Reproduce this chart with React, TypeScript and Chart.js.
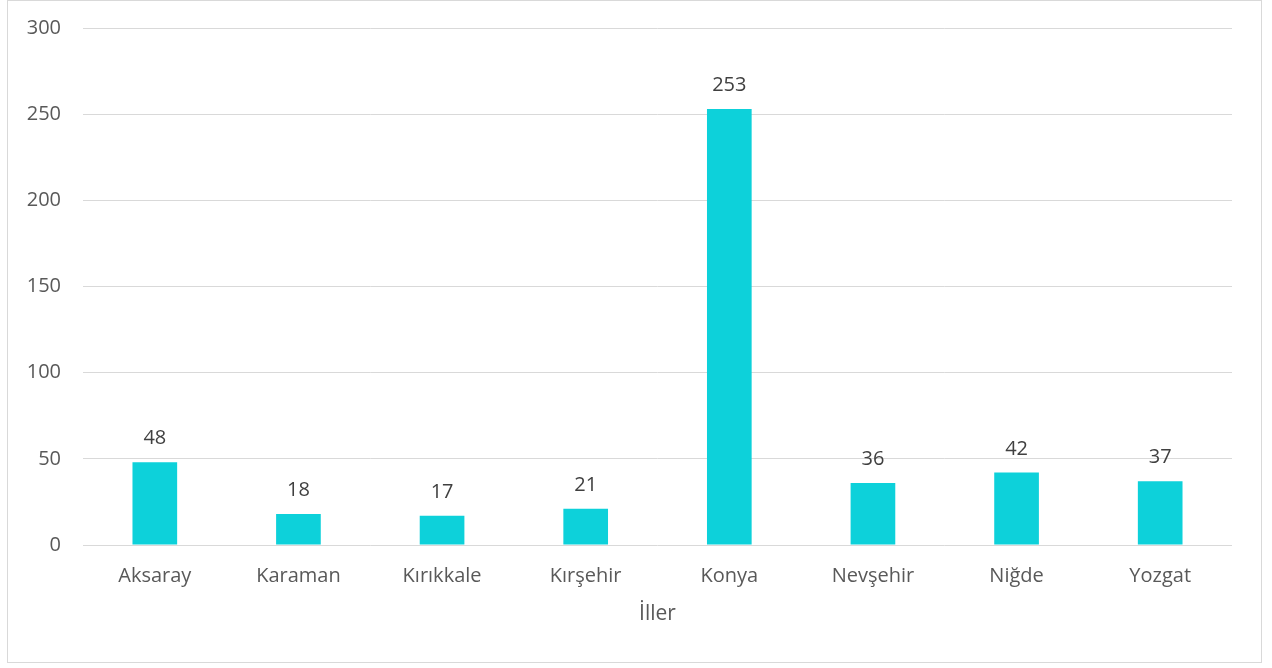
import { useEffect, useRef } from 'react';
import { Chart, registerables } from 'chart.js';

Chart.register(...registerables);

const categories = ['Aksaray', 'Karaman', 'Kırıkkale', 'Kırşehir', 'Konya', 'Nevşehir', 'Niğde', 'Yozgat'];
const values = [48, 18, 17, 21, 253, 36, 42, 37];
const yMin = 0;
const yMax = 300;
const yStep = 50;
const xTitle = 'İller';

const FONT = "'Open Sans', 'DejaVu Sans', sans-serif";

const frameAndLabels = {
  id: 'frameAndLabels',
  beforeDraw(chart: any) {
    const { ctx } = chart;
    ctx.save();
    ctx.fillStyle = '#ffffff';
    ctx.fillRect(0, 0, chart.width, chart.height);
    ctx.strokeStyle = '#d9d9d9';
    ctx.lineWidth = 1;
    ctx.strokeRect(7.5, 0.5, 1254, 662);
    ctx.restore();
  },
  afterDatasetsDraw(chart: any) {
    const { ctx } = chart;
    const meta = chart.getDatasetMeta(0);
    ctx.save();
    ctx.font = `20px ${FONT}`;
    ctx.fillStyle = '#404040';
    ctx.textAlign = 'center';
    ctx.textBaseline = 'alphabetic';
    meta.data.forEach((bar: any, i: number) => {
      ctx.fillText(String(values[i]), bar.x, bar.y - 18);
    });
    ctx.restore();
  },
};

export default function App() {
  const ref = useRef<HTMLCanvasElement | null>(null);

  useEffect(() => {
    document.body.style.margin = '0';
    const canvas = ref.current;
    if (!canvas) return;
    const chart = new Chart(canvas, {
      type: 'bar',
      data: {
        labels: categories,
        datasets: [
          {
            data: values,
            backgroundColor: '#0dd1da',
            borderWidth: 0,
            categoryPercentage: 1,
            barPercentage: 0.311,
          },
        ],
      },
      options: {
        responsive: false,
        animation: false,
        devicePixelRatio: 1,
        layout: { padding: { left: 0, top: 28, right: 40, bottom: 0 } },
        plugins: {
          legend: { display: false },
          tooltip: { enabled: false },
        },
        scales: {
          x: {
            grid: { display: false, drawTicks: false },
            border: { display: false },
            ticks: {
              color: '#595959',
              font: { family: FONT, size: 20 },
              padding: 19,
              maxRotation: 0,
            },
            title: {
              display: true,
              text: xTitle,
              color: '#595959',
              font: { family: FONT, size: 21 },
              padding: { top: 0, bottom: 41 },
            },
            afterFit(scale: any) {
              scale.height = 123;
            },
          },
          y: {
            min: yMin,
            max: yMax,
            ticks: {
              stepSize: yStep,
              color: '#595959',
              font: { family: FONT, size: 20 },
              padding: 22,
            },
            grid: { color: '#d9d9d9', lineWidth: 1, drawTicks: false },
            border: { display: false },
            afterFit(scale: any) {
              scale.width = 83;
              scale.paddingTop = 12;
              scale.paddingBottom = 12;
            },
          },
        },
      },
      plugins: [frameAndLabels],
    });
    return () => chart.destroy();
  }, []);

  return <canvas ref={ref} width={1272} height={668} style={{ display: 'block' }} />;
}
